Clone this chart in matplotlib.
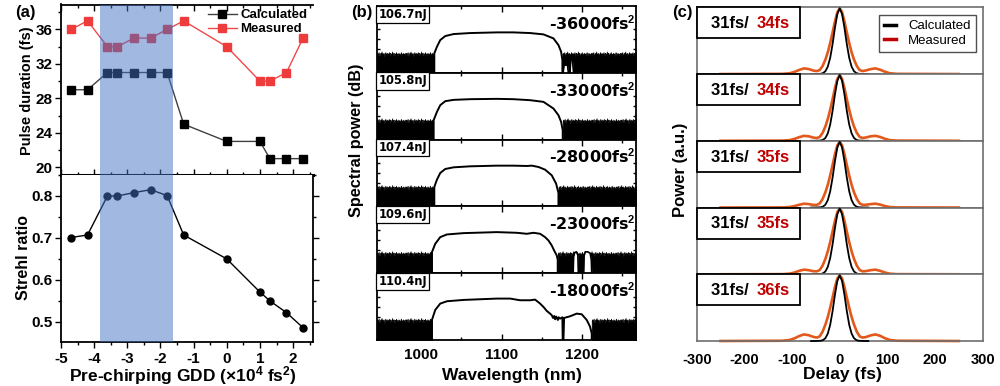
import numpy as np
import matplotlib
matplotlib.use("Agg")
import matplotlib.pyplot as plt
from matplotlib.lines import Line2D
from matplotlib.patches import Rectangle
from matplotlib.ticker import MultipleLocator

plt.rcParams['font.family'] = ['Liberation Sans', 'DejaVu Sans']
plt.rcParams['font.weight'] = 'bold'
plt.rcParams['axes.unicode_minus'] = False
plt.rcParams['mathtext.fontset'] = 'custom'
plt.rcParams['mathtext.rm'] = 'Liberation Sans'
plt.rcParams['mathtext.bf'] = 'Liberation Sans:bold'
plt.rcParams['mathtext.default'] = 'regular'

# ---------------- Panel (a) data ----------------
gdd = [-4.7, -4.2, -3.6, -3.3, -2.8, -2.3, -1.8, -1.3, 0.0, 1.0, 1.3, 1.8, 2.3]
pulse_calc = [29, 29, 31, 31, 31, 31, 31, 25, 23, 23, 21, 21, 21]
pulse_meas = [36, 37, 34, 34, 35, 35, 36, 37, 34, 30, 30, 31, 35]
strehl = [0.701, 0.707, 0.800, 0.800, 0.808, 0.815, 0.801, 0.707, 0.650, 0.571, 0.550, 0.522, 0.486]
shade_range = (-3.82, -1.63)

# ---------------- Panel (b) data ----------------
energies = ['106.7nJ', '105.8nJ', '107.4nJ', '109.6nJ', '110.4nJ']
gdd_labels = ['-36000', '-33000', '-28000', '-23000', '-18000']
spec_wl = [
    [1016.5, 1016.5, 1019.8, 1023.9, 1030.1, 1040.5, 1061.1, 1094.2, 1114.9, 1135.5, 1152.1, 1164.5, 1170.7, 1174.0, 1175.6, 1175.6],
    [1015.7, 1015.7, 1019.8, 1023.9, 1030.1, 1040.5, 1061.1, 1094.2, 1114.9, 1135.5, 1152.1, 1164.5, 1170.7, 1174.0, 1176.0, 1176.0],
    [1016.5, 1016.5, 1019.8, 1023.9, 1030.1, 1040.5, 1061.1, 1094.2, 1114.9, 1131.4, 1137.6, 1145.9, 1154.1, 1162.4, 1167.8, 1170.7, 1170.7],
    [1013.6, 1013.6, 1017.7, 1023.9, 1032.2, 1052.9, 1094.2, 1119.0, 1131.4, 1139.7, 1147.9, 1154.1, 1158.3, 1162.4, 1165.3, 1168.6, 1169.8, 1169.8],
    [1013.6, 1013.6, 1017.7, 1023.9, 1032.2, 1052.9, 1073.5, 1094.2, 1110.7, 1123.1, 1135.5, 1141.7, 1147.9, 1152.1, 1156.2, 1160.3,
     1162.4, 1164.0, 1165.5, 1166.5, 1168.0, 1170.0, 1171.0, 1172.7, 1175.6, 1176.0, 1176.9, 1177.7, 1185.1, 1193.4, 1199.6, 1205.8,
     1209.9, 1212.0, 1212.0],
]
spec_lev = [
    [0, 0.29, 0.39, 0.49, 0.55, 0.58, 0.595, 0.605, 0.605, 0.595, 0.575, 0.515, 0.415, 0.315, 0.19, 0],
    [0, 0.29, 0.415, 0.515, 0.575, 0.595, 0.605, 0.61, 0.605, 0.59, 0.565, 0.465, 0.365, 0.265, 0.14, 0],
    [0, 0.29, 0.40, 0.50, 0.56, 0.585, 0.60, 0.61, 0.61, 0.605, 0.61, 0.59, 0.55, 0.465, 0.34, 0.20, 0],
    [0, 0.315, 0.44, 0.54, 0.58, 0.60, 0.615, 0.605, 0.59, 0.605, 0.59, 0.54, 0.49, 0.415, 0.34, 0.265, 0.20, 0],
    [0, 0.30, 0.45, 0.545, 0.58, 0.60, 0.61, 0.62, 0.62, 0.595, 0.595, 0.605, 0.545, 0.495, 0.435, 0.395,
     0.37, 0.33, 0.36, 0.31, 0.35, 0.30, 0.34, 0.32, 0.34, 0, 0, 0.33, 0.355, 0.395, 0.385, 0.30,
     0.20, 0.10, 0],
]
noise_left_end = [1016.5, 1015.7, 1016.5, 1013.6, 1013.6]
noise_right_start = [1175.6, 1176.0, 1170.7, 1169.8, 1212.0]
noise_base = [0.28, 0.28, 0.28, 0.29, 0.29]
# white holes (spectral bumps) inside the noise floor
hole_wl = [
    [[1176.5, 1177.5, 1180.0, 1182.0, 1183.0], [1185.0, 1186.0, 1187.0, 1188.0, 1189.5]],
    [], [],
    [[1189.0, 1189.5, 1191.0, 1193.0, 1194.8, 1195.4], [1202.0, 1202.5, 1204.0, 1207.0, 1210.0, 1211.5, 1212.0]],
    [],
]
hole_lev = [
    [[0, 0.11, 0.12, 0.11, 0], [0, 0.20, 0.23, 0.20, 0]],
    [], [],
    [[0, 0.25, 0.31, 0.32, 0.27, 0], [0, 0.26, 0.32, 0.32, 0.30, 0.20, 0]],
    [],
]
NOISE = [0.29, 0.31, 0.27, 0.30, 0.32, 0.28, 0.26, 0.30, 0.31, 0.29, 0.33, 0.28, 0.30, 0.27, 0.31,
         0.29, 0.25, 0.30, 0.32, 0.28, 0.29, 0.31, 0.27, 0.30, 0.28, 0.32, 0.29, 0.26, 0.31, 0.30,
         0.28, 0.29, 0.33, 0.27, 0.30, 0.31, 0.28, 0.26, 0.30, 0.29, 0.32, 0.28, 0.30, 0.27, 0.29,
         0.31, 0.28, 0.30, 0.26, 0.29, 0.32, 0.30, 0.27, 0.29, 0.31, 0.28, 0.30, 0.29, 0.27, 0.31]

# ---------------- Panel (c) data ----------------
calc_label = ['31fs/ '] * 5
meas_label = ['34fs', '34fs', '35fs', '35fs', '36fs']
delay_calc = [-60, -50, -40, -35, -30, -25, -20, -15, -10, -5, 0, 5, 10, 15, 20, 25, 30, 35, 40, 50, 60]
ac_calc = [0, 0, 0.004, 0.014, 0.043, 0.112, 0.245, 0.452, 0.703, 0.912, 1.0,
           0.912, 0.703, 0.452, 0.245, 0.112, 0.043, 0.014, 0.004, 0, 0]
delay_meas = [-250, -120, -105, -95, -85, -75, -65, -55, -48, -42, -36, -30, -25, -20, -15, -10, -5, 0,
              5, 10, 15, 20, 25, 30, 36, 42, 48, 55, 65, 75, 85, 95, 105, 120, 250]
ac_meas = [
    [0, 0.003, 0.012, 0.032, 0.062, 0.086, 0.076, 0.052, 0.045, 0.060, 0.120, 0.220, 0.330, 0.470, 0.630, 0.800, 0.940, 1.0,
     0.940, 0.800, 0.630, 0.470, 0.330, 0.220, 0.120, 0.060, 0.045, 0.055, 0.075, 0.086, 0.065, 0.035, 0.012, 0.003, 0],
    [0, 0.003, 0.010, 0.028, 0.055, 0.075, 0.068, 0.048, 0.042, 0.058, 0.118, 0.218, 0.330, 0.470, 0.630, 0.800, 0.940, 1.0,
     0.940, 0.800, 0.630, 0.470, 0.330, 0.218, 0.118, 0.058, 0.042, 0.050, 0.068, 0.075, 0.058, 0.030, 0.010, 0.003, 0],
    [0, 0.002, 0.008, 0.022, 0.042, 0.058, 0.052, 0.040, 0.040, 0.062, 0.128, 0.232, 0.345, 0.485, 0.645, 0.810, 0.945, 1.0,
     0.945, 0.810, 0.645, 0.485, 0.345, 0.232, 0.128, 0.062, 0.040, 0.042, 0.052, 0.058, 0.044, 0.022, 0.008, 0.002, 0],
    [0, 0.002, 0.009, 0.026, 0.052, 0.070, 0.062, 0.046, 0.044, 0.064, 0.130, 0.235, 0.348, 0.488, 0.648, 0.812, 0.945, 1.0,
     0.945, 0.812, 0.648, 0.488, 0.348, 0.235, 0.130, 0.064, 0.044, 0.048, 0.062, 0.070, 0.052, 0.026, 0.009, 0.002, 0],
    [0, 0.004, 0.016, 0.040, 0.075, 0.100, 0.088, 0.062, 0.052, 0.070, 0.140, 0.250, 0.365, 0.505, 0.660, 0.820, 0.950, 1.0,
     0.950, 0.820, 0.660, 0.505, 0.365, 0.250, 0.140, 0.070, 0.052, 0.060, 0.085, 0.100, 0.078, 0.042, 0.016, 0.004, 0],
]

W, H = 1000, 386
fig = plt.figure(figsize=(W / 100, H / 100), dpi=100)


def rect(l, t, r, b):
    return [l / W, 1 - b / H, (r - l) / W, (b - t) / H]


def ftext(x, y, s, **kw):
    return fig.text(x / W, 1 - y / H, s, **kw)


# ================= Panel (a) =================
ax_u = fig.add_axes(rect(61, 4.5, 313, 175))
ax_l = fig.add_axes(rect(61, 175, 313, 342))

ax_u.plot(gdd, pulse_calc, color='#404040', lw=1.0, marker='s', ms=6, mfc='k', mec='k', label='Calculated', zorder=2)
ax_u.plot(gdd, pulse_meas, color='#f04848', lw=1.0, marker='s', ms=6, mfc='#ee3b3b', mec='#ee3b3b', label='Measured', zorder=2)
ax_l.plot(gdd, strehl, color='k', lw=1.0, marker='o', ms=5, mfc='k', mec='k', zorder=2)
for ax in (ax_u, ax_l):
    ax.axvspan(*shade_range, color='#4472c4', alpha=0.5, lw=0, zorder=3)
    ax.set_xlim(-5, 2.6)
    ax.xaxis.set_major_locator(MultipleLocator(1))
    ax.xaxis.set_minor_locator(MultipleLocator(0.5))

ax_u.set_ylim(19.1, 38.9)
ax_u.yaxis.set_major_locator(MultipleLocator(4))
ax_u.yaxis.set_minor_locator(MultipleLocator(2))
ax_u.spines['right'].set_visible(False)
for s in ('left', 'top'):
    ax_u.spines[s].set_linewidth(1.3)
ax_u.spines['bottom'].set_linewidth(2.2)
ax_u.tick_params(axis='x', which='both', direction='in', top=True, bottom=True, labelbottom=False)
ax_u.tick_params(axis='x', which='major', length=4, width=1)
ax_u.tick_params(axis='x', which='minor', length=2.5, width=1)
ax_u.tick_params(axis='y', which='major', direction='out', length=4, width=1, labelsize=11, pad=2)
ax_u.tick_params(axis='y', which='minor', direction='out', length=2, width=1)
ax_u.legend(loc='upper right', bbox_to_anchor=(1.01, 1.02), frameon=False, fontsize=9.5,
            handlelength=2.2, handletextpad=0.3, labelspacing=0.15, borderaxespad=0.2)

ax_l.set_ylim(0.452, 0.85)
ax_l.yaxis.set_major_locator(MultipleLocator(0.1))
ax_l.yaxis.set_minor_locator(MultipleLocator(0.05))
ax_l.spines['top'].set_visible(False)
for s in ('left', 'right', 'bottom'):
    ax_l.spines[s].set_linewidth(1.3)
ax_l.tick_params(axis='x', which='major', direction='out', length=4, width=1, labelsize=11, pad=3)
ax_l.tick_params(axis='x', which='minor', direction='out', length=2, width=1)
ax_l.tick_params(axis='y', which='both', direction='out', right=True, width=1, labelsize=11, pad=2)
ax_l.tick_params(axis='y', which='major', length=4)
ax_l.tick_params(axis='y', which='minor', length=2)
for ax in (ax_u, ax_l):
    for lab in ax.get_xticklabels() + ax.get_yticklabels():
        lab.set_fontweight('bold')

ftext(27.5, 91, 'Pulse duration (fs)', rotation=90, fontsize=10.5, fontweight='bold', ha='center', va='center')
ftext(23.5, 257.5, 'Strehl ratio', rotation=90, fontsize=11.5, fontweight='bold', ha='center', va='center')
ftext(183, 376, 'Pre-chirping GDD (×10$^{4}$ fs$^{2}$)', fontsize=12.5, fontweight='bold', ha='center', va='center')
ftext(15, 5, '(a)', fontsize=12, fontweight='bold', va='top', ha='left')

# ================= Panel (b) =================
b_top, b_bot = 6.0, 340.0
b_h = (b_bot - b_top) / 5
for i in range(5):
    ax = fig.add_axes(rect(376.7, b_top + i * b_h, 636, b_top + (i + 1) * b_h))
    for a, b in ((945.0, noise_left_end[i]), (noise_right_start[i], 1268.0)):
        wl = np.arange(a, b, 0.6)
        lev = noise_base[i] + (np.resize(NOISE, wl.size) - 0.29)
        ax.fill_between(wl, 0, lev, color='k', lw=0.5, zorder=2)
    for hw, hl in zip(hole_wl[i], hole_lev[i]):
        ax.fill_between(hw, 0, hl, color='white', lw=0, zorder=3)
        ax.plot(hw, hl, color='k', lw=1.2, zorder=4)
    ax.plot(spec_wl[i], spec_lev[i], color='k', lw=1.4, zorder=4)
    ax.set_xlim(945, 1267)
    ax.set_ylim(0, 1)
    ax.set_yticks([0.35, 0.5, 0.65])
    ax.xaxis.set_major_locator(MultipleLocator(100))
    ax.xaxis.set_minor_locator(MultipleLocator(50))
    ax.tick_params(axis='both', which='both', direction='in', top=True, right=True, width=1,
                   labelleft=False)
    ax.tick_params(axis='y', length=2.5)
    ax.tick_params(axis='x', which='major', length=4)
    ax.tick_params(axis='x', which='minor', length=2.5)
    for s in ax.spines.values():
        s.set_linewidth(1.3)
    if i < 4:
        ax.tick_params(labelbottom=False)
    else:
        ax.tick_params(axis='x', labelsize=11, pad=6)
        for lab in ax.get_xticklabels():
            lab.set_fontweight('bold')
    ax.text(0.006, 0.975, energies[i], transform=ax.transAxes, fontsize=8.3, fontweight='bold',
            ha='left', va='top', family='DejaVu Sans',
            bbox=dict(boxstyle='square,pad=0.18', fc='white', ec='black', lw=0.9), zorder=6)
    ax.text(0.997, 0.74, gdd_labels[i] + 'fs$^{\\mathbf{2}}$', transform=ax.transAxes, fontsize=11.5,
            fontweight='bold', ha='right', va='center', family='DejaVu Sans', zorder=6)

ftext(356.5, 140, 'Spectral power (dB)', rotation=90, fontsize=11.7, fontweight='bold', ha='center', va='center')
ftext(512, 375.5, 'Wavelength (nm)', fontsize=12.5, fontweight='bold', ha='center', va='center')
ftext(351, 5, '(b)', fontsize=12, fontweight='bold', va='top', ha='left')

# ================= Panel (c) =================
c_top, c_bot = 7.3, 341.0
c_h = (c_bot - c_top) / 5
ORANGE = '#e2591b'
RED = '#c00000'
for i in range(5):
    ax = fig.add_axes(rect(696.7, c_top + i * c_h, 982.7, c_top + (i + 1) * c_h))
    ax.plot(delay_meas, ac_meas[i], color=ORANGE, lw=1.9, zorder=2, clip_on=False)
    ax.plot(delay_calc, ac_calc, color='k', lw=1.3, zorder=3, clip_on=False)
    ax.set_xlim(-300, 300)
    ax.set_ylim(0, 1.015)
    ax.set_yticks([])
    ax.set_xticks(range(-300, 301, 100))
    ax.tick_params(axis='x', length=0)
    for s in ax.spines.values():
        s.set_linewidth(1.2)
        s.set_color('#6e6e6e')
    if i < 4:
        ax.tick_params(labelbottom=False)
    else:
        ax.tick_params(axis='x', labelsize=10.5, pad=9)
        for lab in ax.get_xticklabels():
            lab.set_fontweight('bold')
    ax.add_patch(Rectangle((0, 0.535), 0.36, 0.465, transform=ax.transAxes, fc='white', ec='black',
                           lw=1.3, zorder=5, clip_on=False))
    ax.text(0.049, 0.755, calc_label[i], transform=ax.transAxes, fontsize=12, fontweight='bold',
            color='black', ha='left', va='center', zorder=6)
    ax.text(0.21, 0.755, meas_label[i], transform=ax.transAxes, fontsize=12, fontweight='bold',
            color=RED, ha='left', va='center', zorder=6)
    if i == 0:
        handles = [Line2D([], [], color='black', lw=2.5), Line2D([], [], color=RED, lw=2.5)]
        leg = ax.legend(handles, ['Calculated', 'Measured'], loc='upper right', bbox_to_anchor=(0.976, 0.885),
                        handlelength=0.9, handletextpad=0.9, labelspacing=0.15,
                        borderpad=0.4, borderaxespad=0.0, fancybox=False, edgecolor='#505050', framealpha=1,
                        prop=dict(family='Liberation Sans', weight='normal', size=9.5))
        leg.get_frame().set_linewidth(1.0)

ftext(680, 170, 'Power (a.u.)', rotation=90, fontsize=12, fontweight='bold', ha='center', va='center')
ftext(842.5, 375, 'Delay (fs)', fontsize=12.6, fontweight='bold', ha='center', va='center')
ftext(672, 5, '(c)', fontsize=12, fontweight='bold', va='top', ha='left')

fig.savefig('out.png', dpi=100)
